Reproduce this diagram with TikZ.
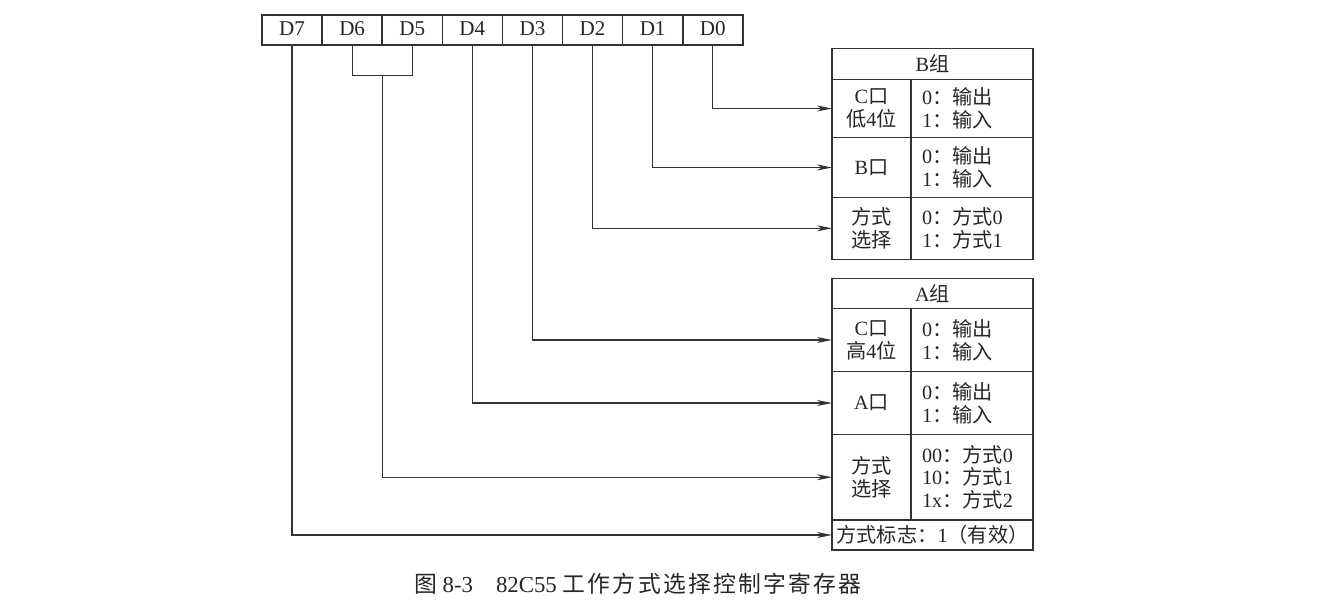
\documentclass[tikz,border=0pt]{standalone}
\usepackage{fontspec}
\setmainfont{Liberation Serif}
\newfontfamily\cjk{Noto Sans CJK SC}
\newfontfamily\cjkcap{Noto Sans CJK SC}[LetterSpace=10]
\newcommand\zhtext[1]{{\cjk #1}}
\usetikzlibrary{arrows.meta,calc}

\begin{document}
\begin{tikzpicture}[x=0.02cm, y=-0.02cm,
  every node/.style={font=\fontsize{11.5}{13}\selectfont, text=black!85},
  regcell/.style={draw=black!80, line width=0.9pt, minimum width=1.202cm, minimum height=0.6cm, text height=1.6ex, text depth=0.2ex, inner sep=0pt, outer sep=0pt, font=\fontsize{12}{13}\selectfont},
  namecell/.style={draw=black!80, line width=0.8pt, minimum width=1.58cm, inner sep=0pt, outer sep=0pt, align=center},
  valcell/.style={draw=black!80, line width=0.8pt, text width=2cm, inner xsep=0.22cm, inner ysep=0pt, outer sep=0pt, align=left},
  headcell/.style={draw=black!80, line width=0.8pt, minimum width=4.02cm, minimum height=0.6cm, inner sep=0pt, outer sep=0pt},
  conn/.style={draw=black!80, line width=0.7pt, -{Stealth[length=3mm, width=1.2mm, inset=0.9mm]}}]
  \useasboundingbox (0,0) rectangle (1323,610);

  % control word register
  \foreach \b [count=\k from 0] in {7,6,...,0}
    \node[regcell] (d\b) at ({292.05+60.1*\k},30) {D\b};

  % B group
  \node[headcell, minimum height=0.62cm] (bt) at (932.5,63.8) {B\zhtext{组}};
  \node[namecell, minimum height=1.168cm] (bcl) at (871.5,108.5) {C\zhtext{口}\\\zhtext{低}4\zhtext{位}};
  \node[valcell, minimum height=1.168cm] (bcr) at (972,108.5) {0\zhtext{：输出}\\1\zhtext{：输入}};
  \node[namecell, minimum height=1.192cm] (bbl) at (871.5,167.5) {B\zhtext{口}};
  \node[valcell, minimum height=1.192cm] (bbr) at (972,167.5) {0\zhtext{：输出}\\1\zhtext{：输入}};
  \node[namecell, minimum height=1.24cm] (bml) at (871.5,228.3) {\zhtext{方式}\\\zhtext{选择}};
  \node[valcell, minimum height=1.24cm] (bmr) at (972,228.3) {0\zhtext{：方式}0\\1\zhtext{：方式}1};

  % A group
  \node[headcell] (at) at (932.5,293.3) {A\zhtext{组}};
  \node[namecell, minimum height=1.268cm] (acl) at (871.5,340) {C\zhtext{口}\\\zhtext{高}4\zhtext{位}};
  \node[valcell, minimum height=1.268cm] (acr) at (972,340) {0\zhtext{：输出}\\1\zhtext{：输入}};
  \node[namecell, minimum height=1.252cm] (aal) at (871.5,403) {A\zhtext{口}};
  \node[valcell, minimum height=1.252cm] (aar) at (972,403) {0\zhtext{：输出}\\1\zhtext{：输入}};
  \node[namecell, minimum height=1.714cm] (aml) at (871.5,477.2) {\zhtext{方式}\\\zhtext{选择}};
  \node[valcell, minimum height=1.714cm] (amr) at (972,477.2) {00\zhtext{：方式}0\\10\zhtext{：方式}1\\1x\zhtext{：方式}2};
  \node[headcell] (aflag) at (932.5,535) {\zhtext{方式标志：}1\zhtext{（有效）}};

  % bit lines
  \draw[conn] (d0.south) |- (bcl.west);
  \draw[conn] (d1.south) |- (bbl.west);
  \draw[conn] (d2.south) |- (bml.west);
  \draw[conn] (d3.south) |- (acl.west);
  \draw[conn] (d4.south) |- (aal.west);
  \draw[draw=black!80, line width=0.7pt] (d6.south) -- ++(0,30.7) -| (d5.south);
  \coordinate (d65) at ($(d6.south)!0.5!(d5.south)+(0,30.7)$);
  \draw[conn] (d65) |- (aml.west);
  \draw[conn] (d7.south) |- (aflag.west);

  \node[font=\fontsize{13}{15}\selectfont] (cap) at (638,584) {{\cjkcap 图} 8-3\quad 82C55 {\cjkcap 工作方式选择控制字寄存器}};
\end{tikzpicture}
\end{document}
